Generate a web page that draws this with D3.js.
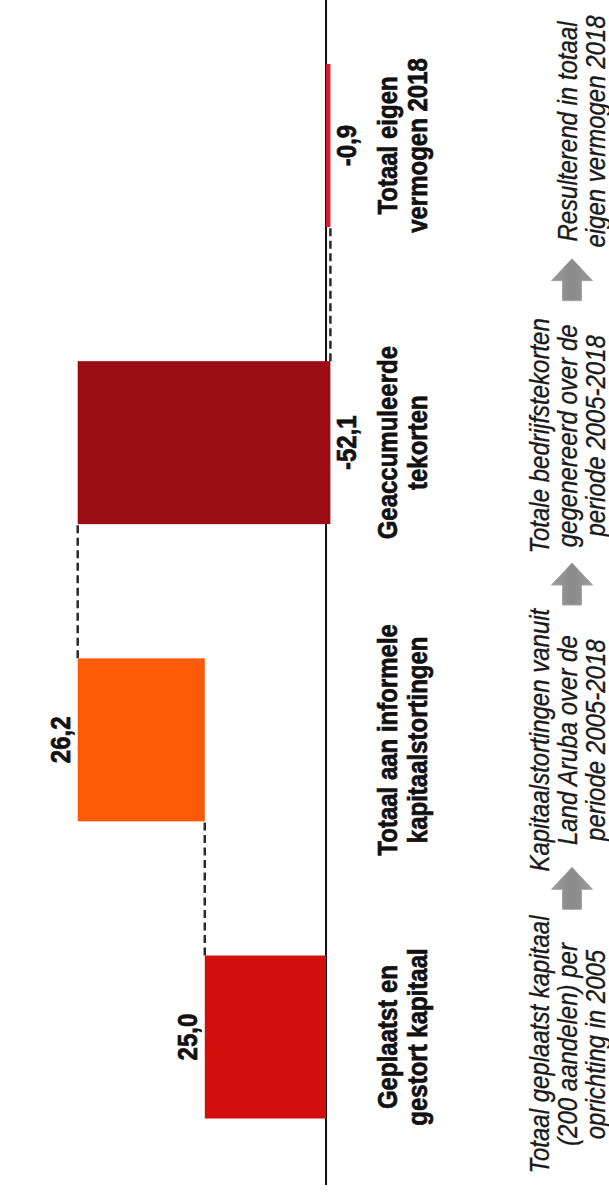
<!DOCTYPE html>
<html>
<head>
<meta charset="utf-8">
<script src="https://cdn.jsdelivr.net/npm/d3@7"></script>
<style>
  html, body { margin: 0; padding: 0; background: #ffffff; }
  svg { display: block; }
</style>
</head>
<body>
<svg id="chart" width="609" height="1195"></svg>
<script>
// ---- data ----
const categories = ["Geplaatst en gestort kapitaal", "Totaal aan informele kapitaalstortingen", "Geaccumuleerde tekorten", "Totaal eigen vermogen 2018"];
const categoryLines = [
  ["Geplaatst en", "gestort kapitaal"],
  ["Totaal aan informele", "kapitaalstortingen"],
  ["Geaccumuleerde", "tekorten"],
  ["Totaal eigen", "vermogen 2018"]
];
const values = [25.0, 26.2, -52.1, -0.9];
const isTotal = [false, false, false, true];
const annotationLines = [
  ["Totaal geplaatst kapitaal", "(200 aandelen) per", "oprichting in 2005"],
  ["Kapitaalstortingen vanuit", "Land Aruba over de", "periode 2005-2018"],
  ["Totale bedrijfstekorten", "gegenereerd over de", "periode 2005-2018"],
  ["Resulterend in totaal", "eigen vermogen 2018"]
];
const barColors = ["#d30f0e", "#fd5a06", "#9a0d12", "#e4162a"];

// ---- waterfall ----
let run = 0;
const bars = categories.map((c, i) => {
  let start, end;
  if (isTotal[i]) { start = 0; end = values[i]; }
  else { start = run; end = run + values[i]; }
  run = end;
  return { cat: c, i, value: values[i], start, end };
});

const svg = d3.select("#chart");
const FONT = "'Liberation Sans', Arial, Helvetica, sans-serif";

// value axis runs horizontally (positive to the left), categories bottom -> top
const x = d3.scaleLinear().domain([-0.9, 51.2]).range([330.4, 77.7]);
const y = d3.scaleBand().domain(categories).range([1185.6, -3.1]).paddingInner(0.4515).paddingOuter(0.2257);
const yAnn = d3.scalePoint().domain(categories).range([1044.5, 131.5]);
const color = d3.scaleOrdinal().domain(categories).range(barColors);
const fmt = d3.formatLocale({ decimal: ",", thousands: ".", grouping: [3], currency: ["", ""], minus: "-" }).format(".1f");

// zero line
svg.append("line")
  .attr("x1", x(0)).attr("x2", x(0))
  .attr("y1", 0).attr("y2", 1185)
  .attr("stroke", "#111").attr("stroke-width", 2);

// connectors
const conn = bars.slice(0, -1).map((b, i) => ({ v: b.end, y1: y(b.cat), y2: y(bars[i + 1].cat) + y.bandwidth() }));
svg.selectAll("line.conn").data(conn).join("line")
  .attr("class", "conn")
  .attr("x1", d => x(d.v)).attr("x2", d => x(d.v))
  .attr("y1", d => d.y1).attr("y2", d => d.y2)
  .attr("stroke", "#2a2a2a").attr("stroke-width", 2.5)
  .attr("stroke-dasharray", "8,4.5");

// bars
svg.selectAll("rect.bar").data(bars).join("rect")
  .attr("class", "bar")
  .attr("x", d => Math.min(x(d.start), x(d.end)))
  .attr("width", d => Math.abs(x(d.start) - x(d.end)))
  .attr("y", d => y(d.cat))
  .attr("height", y.bandwidth())
  .attr("fill", d => color(d.cat));

const stretch = "scale(1,1.15)";

// value labels
svg.selectAll("text.val").data(bars).join("text")
  .attr("class", "val")
  .attr("transform", d => {
    const hi = Math.max(d.start, d.end), lo = Math.min(d.start, d.end);
    const bx = d.value >= 0 ? x(hi) - 8 : x(lo) + 26;
    return `translate(${bx},${y(d.cat) + y.bandwidth() / 2}) rotate(-90) ${stretch}`;
  })
  .attr("text-anchor", "middle")
  .attr("font-family", FONT).attr("font-weight", "bold").attr("font-size", 24)
  .attr("fill", "#111").attr("stroke", "#111").attr("stroke-width", 0.6)
  .text(d => fmt(d.value));

// category labels
const catBase = [397, 427];
bars.forEach((b, i) => {
  categoryLines[i].forEach((ln, k) => {
    svg.append("text")
      .attr("transform", `translate(${catBase[k]},${y(b.cat) + y.bandwidth() / 2}) rotate(-90) ${stretch}`)
      .attr("text-anchor", "middle")
      .attr("font-family", FONT).attr("font-weight", "bold").attr("font-size", 24)
      .attr("fill", "#111").attr("stroke", "#111").attr("stroke-width", 0.6)
      .text(ln);
  });
});

// annotations (italic)
const annBase = [549, 577, 605];
categories.forEach((c, i) => {
  const lines = annotationLines[i];
  const off = annBase.length - lines.length;
  lines.forEach((ln, k) => {
    svg.append("text")
      .attr("transform", `translate(${annBase[k + off]},${yAnn(c)}) rotate(-90) ${stretch}`)
      .attr("text-anchor", "middle")
      .attr("font-family", FONT).attr("font-style", "italic").attr("font-size", 24)
      .attr("fill", "#1a1a1a").attr("stroke", "#1a1a1a").attr("stroke-width", 0.3)
      .text(ln);
  });
});

// arrows between annotations
const arrowX = 572;
const arrows = categories.slice(0, -1).map((c, i) => (yAnn(c) + yAnn(categories[i + 1])) / 2 - 4);
const arrowPath = "M0,-21 L20.5,1 L9.5,1 L9.5,21 L-9.5,21 L-9.5,1 L-20.5,1 Z";
const defs = svg.append("defs");
const grad = defs.append("linearGradient").attr("id", "ag").attr("x1", 0).attr("x2", 1).attr("y1", 0).attr("y2", 0);
grad.append("stop").attr("offset", "0%").attr("stop-color", "#9a9a9a");
grad.append("stop").attr("offset", "50%").attr("stop-color", "#8a8a8a");
grad.append("stop").attr("offset", "100%").attr("stop-color", "#9a9a9a");
svg.selectAll("path.arrow").data(arrows).join("path")
  .attr("class", "arrow")
  .attr("transform", d => `translate(${arrowX},${d})`)
  .attr("d", arrowPath)
  .attr("fill", "url(#ag)")
  .attr("stroke", "#a5a5a5").attr("stroke-width", 1);
</script>
</body>
</html>
